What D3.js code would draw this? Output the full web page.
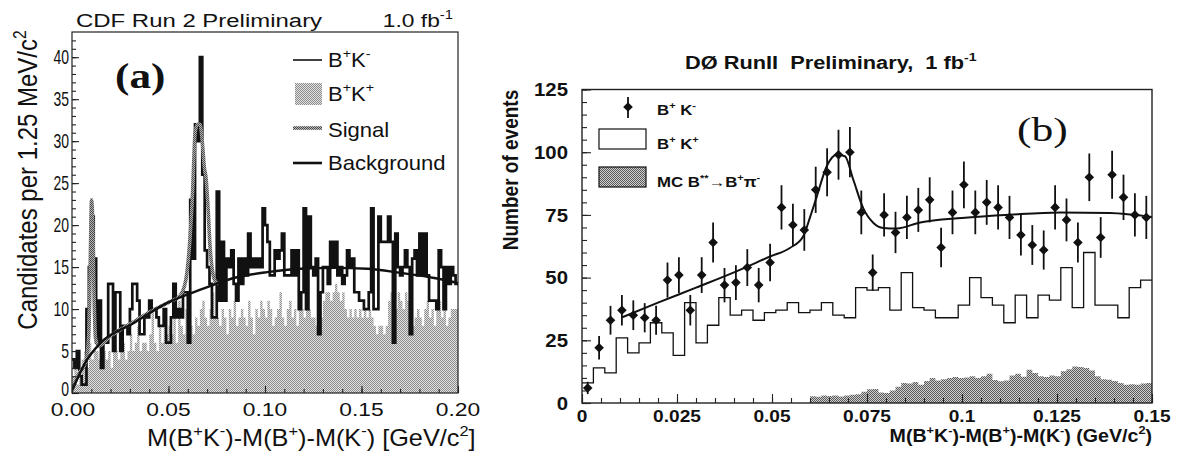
<!DOCTYPE html>
<html>
<head>
<meta charset="utf-8">
<script src="https://cdn.jsdelivr.net/npm/d3@7"></script>
<style>
  body { margin: 0; background: #fff; }
  svg text { font-family: "Liberation Sans", Arial, Helvetica, sans-serif; fill: #111; }
</style>
</head>
<body>
<svg id="chart" width="1184" height="452"></svg>
<script>
// ---------- panel (a): CDF, 1.25 MeV bins from 0 to 0.2 GeV ----------
const binA = 0.00125;
// B+K- candidates (opposite sign), 160 bins
const kmA = [
  4, 3, 5, 2, 1, 1, 10, 15, 21, 16,
  6, 11, 3, 6, 6, 13, 13, 5, 12, 12,
  5, 8, 8, 7, 10, 13, 13, 11, 7, 7,
  9, 9, 11, 10, 10, 9, 8, 8, 10, 6,
  6, 9, 13, 9, 10, 9, 12, 12, 6, 23,
  16, 32, 30, 40, 26, 17, 15, 13, 9, 9,
  24, 11, 18, 11, 16, 15, 17, 13, 11, 16,
  13, 16, 14, 19, 15, 16, 15, 16, 15, 22,
  20, 18, 14, 14, 17, 16, 17, 19, 14, 14,
  14, 17, 14, 17, 10, 12, 22, 10, 21, 15,
  14, 16, 7, 12, 15, 15, 13, 18, 15, 18,
  14, 15, 13, 14, 17, 15, 16, 12, 12, 11,
  11, 10, 10, 12, 22, 10, 10, 21, 18, 18,
  18, 21, 18, 6, 19, 15, 14, 15, 17, 15,
  7, 16, 17, 14, 19, 14, 19, 14, 11, 11,
  11, 10, 17, 15, 10, 15, 13, 15, 14, 13
];
// B+K+ candidates (same sign), 160 bins
const kpA = [
  2, 3, 1, 2, 4, 5, 3, 6, 4, 5,
  5, 4, 6, 5, 4, 5, 3, 6, 5, 4,
  5, 6, 4, 5, 7, 5, 6, 8, 5, 6,
  6, 5, 7, 10, 6, 5, 8, 6, 10, 7,
  8, 7, 9, 6, 11, 8, 7, 10, 9, 8,
  7, 9, 8, 10, 11, 9, 8, 10, 12, 9,
  9, 8, 10, 9, 7, 10, 9, 11, 8, 9,
  10, 9, 8, 11, 9, 7, 10, 9, 11, 10,
  9, 11, 10, 8, 9, 10, 12, 9, 8, 10,
  11, 9, 10, 8, 11, 10, 9, 12, 10, 9,
  9, 8, 10, 9, 11, 12, 12, 11, 12, 13,
  12, 11, 12, 10, 9, 10, 9, 10, 9, 10,
  9, 10, 9, 10, 9, 8, 7, 8, 8, 7,
  8, 11, 12, 11, 10, 12, 11, 10, 12, 11,
  9, 8, 9, 10, 9, 8, 10, 11, 9, 10,
  8, 10, 11, 9, 10, 8, 9, 10, 10, 10
];
// fitted curves
const bgX = [0, 0.0076, 0.0145, 0.0318, 0.0491, 0.0665, 0.0838, 0.1011, 0.1184, 0.1358, 0.1531, 0.1704, 0.1877, 0.2];
const bgY = [0.3, 3.9, 5.9, 8.3, 10.7, 12.3, 13.7, 14.4, 14.8, 14.9, 14.8, 14.3, 13.7, 13.1];
const sigX = [0, 0.004, 0.007, 0.0087, 0.0095, 0.0101, 0.0107, 0.0114, 0.0122, 0.0138, 0.02, 0.03, 0.04, 0.05, 0.056, 0.059, 0.061, 0.0625, 0.0638, 0.065, 0.0663, 0.0675, 0.0685, 0.0695, 0.0705, 0.0715, 0.0725, 0.074, 0.076];
const sigY = [0.3, 2.5, 3.6, 7, 16, 23, 21, 12, 6.5, 5.6, 6.8, 8.2, 9.6, 10.8, 11.6, 13.5, 18, 24, 31, 32, 32, 30, 27, 25.5, 22, 17.5, 15, 13.4, 13];
const yTicksA = [0, 5, 10, 15, 20, 25, 30, 35, 40];
const xTicksA = [0, 0.05, 0.10, 0.15, 0.20];
const xLabelsA = ["0.00", "0.05", "0.10", "0.15", "0.20"];

// ---------- panel (b): D0, 3 MeV bins from 0 to 0.15 GeV ----------
const binB = 0.003;
const dataB = [
  6, 22, 33, 37, 35, 34, 33, 49, 51, 37,
  51, 64, 47, 48, 54, 47, 56, 78, 71, 69,
  85, 92, 99, 100, 76, 52, 75, 68, 74, 77,
  81, 62, 76, 87, 76, 80, 78, 74, 67, 63,
  61, 78, 73, 64, 90, 66, 91, 82, 75, 74
];
const sameSignB = [
  8, 14, 12, 26, 20, 24, 32, 28, 19, 40,
  24, 31, 42, 35, 37, 33, 36, 37, 40, 36,
  37, 40, 35, 34, 46, 45, 46, 37, 52, 38,
  37, 34, 34, 39, 50, 42, 39, 32, 43, 34,
  43, 41, 54, 38, 60, 39, 39, 34, 46, 49
];
// MC B** -> B+ pi- , 1.5 MeV bins starting at 0.06
const mcStart = 0.06, mcBin = 0.0015;
const mcB = [
  2.7, 2.5, 3, 2.8, 3, 2.6, 3, 3.3, 3.5, 4.5,
  5.5, 5.6, 4.2, 4, 5, 6.5, 8, 7.8, 8.4, 7.3,
  8.8, 10, 9, 9.5, 10, 10.4, 10, 10.2, 10.7, 10,
  10.7, 11.7, 9.2, 8.7, 9, 11, 11.7, 10.5, 13.3, 12,
  10.7, 10.4, 11, 10.7, 12.7, 13.5, 14.6, 14.4, 14, 13,
  10.7, 9.5, 9.3, 8.8, 8, 7.3, 7.5, 7.3, 7.8, 8
];
const fitBX = [0.0106, 0.02, 0.03, 0.04, 0.0495, 0.0547, 0.0582, 0.06, 0.0618, 0.0644, 0.067, 0.0692, 0.0714, 0.074, 0.0767, 0.0793, 0.0828, 0.089, 0.1, 0.1126, 0.1258, 0.1389, 0.15];
const fitBY = [34.2, 40, 46, 52.1, 58.4, 61.8, 66.4, 74, 82.4, 94.4, 99, 98.4, 89, 77.7, 71.8, 69.8, 69.6, 72, 73.8, 75.1, 76, 75.8, 74.2];
const yTicksB = [0, 25, 50, 75, 100, 125];
const xTicksB = [0, 0.025, 0.05, 0.075, 0.1, 0.125, 0.15];
const xLabelsB = ["0", "0.025", "0.05", "0.075", "0.1", "0.125", "0.15"];

const svg = d3.select("#chart");
const defs = svg.append("defs");

// stippled grey fill like the scanned hatch (checkerboard of two greys)
function hatch(id, base, dark) {
  const p = defs.append("pattern").attr("id", id)
    .attr("patternUnits", "userSpaceOnUse").attr("width", 2).attr("height", 2);
  p.append("rect").attr("width", 2).attr("height", 2).attr("fill", base);
  [[0, 0], [1, 1]].forEach(([i, j]) =>
    p.append("rect").attr("x", i).attr("y", j).attr("width", 1).attr("height", 1).attr("fill", dark));
}
hatch("hatchA", "#e2e2e2", "#8c8c8c");
hatch("hatchB", "#cfcfcf", "#5a5a5a");
hatch("hatchS", "#b4b4b4", "#4a4a4a");

// text with a horizontal stretch (the scan is wider than tall) and superscripts
function label(x, y, parts, o) {
  let tr = `translate(${x},${y}) scale(${o.sx || 1},1)`;
  if (o.rot) tr += ` rotate(${o.rot})`;
  const t = svg.append("g").attr("transform", tr).append("text")
    .attr("font-size", o.size)
    .attr("text-anchor", o.anchor || "start")
    .attr("font-weight", o.weight || "normal")
    .attr("xml:space", "preserve")
    .style("white-space", "pre");
  if (o.family) t.style("font-family", o.family);
  let up = false;
  parts.forEach(p => {
    if (typeof p === "string") {
      const s = t.append("tspan").text(p);
      if (up) { s.attr("dy", o.size * 0.42); up = false; }
    } else {
      t.append("tspan").attr("font-size", o.size * 0.65).attr("dy", -o.size * 0.42).text(p.sup);
      up = true;
    }
  });
  return t;
}

const steps = (vals, start, w) => vals.flatMap((v, i) => [[start + i * w, v], [start + (i + 1) * w, v]]);

// ================= panel (a) =================
const xA = d3.scaleLinear().domain([0, 0.2]).range([72, 458]);
const yA = d3.scaleLinear().domain([0, 43]).range([393, 32]);

defs.append("clipPath").attr("id", "clipA").append("rect")
  .attr("x", xA(0)).attr("y", yA(43)).attr("width", xA(0.2) - xA(0)).attr("height", yA(0) - yA(43));

const gA = svg.append("g").attr("clip-path", "url(#clipA)");
gA.append("path")
  .attr("d", d3.area().x(d => xA(d[0])).y0(yA(0)).y1(d => yA(d[1]))(steps(kpA, 0, binA)))
  .attr("fill", "url(#hatchA)");
gA.append("path")
  .attr("d", d3.line().x(d => xA(d[0])).y(d => yA(d[1]))(steps(kmA, 0, binA)))
  .attr("fill", "none").attr("stroke", "#111").attr("stroke-width", 2.7);
gA.append("path")
  .attr("d", d3.line().curve(d3.curveMonotoneX).x(d => xA(d[0])).y(d => yA(d[1]))(sigX.map((v, i) => [v, sigY[i]])))
  .attr("fill", "none").attr("stroke", "url(#hatchS)").attr("stroke-width", 3.6);
gA.append("path")
  .attr("d", d3.line().curve(d3.curveMonotoneX).x(d => xA(d[0])).y(d => yA(d[1]))(bgX.map((v, i) => [v, bgY[i]])))
  .attr("fill", "none").attr("stroke", "#111").attr("stroke-width", 2.4);

// frame and inward ticks
svg.append("rect").attr("x", xA(0)).attr("y", yA(43)).attr("width", xA(0.2) - xA(0)).attr("height", yA(0) - yA(43))
  .attr("fill", "none").attr("stroke", "#222").attr("stroke-width", 1.2);
function ticks(axis, tr, vals, size) {
  const g = svg.append("g").attr("transform", tr)
    .call(axis.tickValues(vals).tickSize(-size).tickFormat(""));
  g.select(".domain").remove();
  g.selectAll("line").attr("stroke", "#222").attr("stroke-width", 1.1);
}
ticks(d3.axisLeft(yA), `translate(${xA(0)},0)`, d3.range(0, 43, 1), 4);
ticks(d3.axisLeft(yA), `translate(${xA(0)},0)`, yTicksA, 7);
ticks(d3.axisBottom(xA), `translate(0,${yA(0)})`, d3.range(0, 0.2001, 0.01), 4);
ticks(d3.axisBottom(xA), `translate(0,${yA(0)})`, xTicksA, 7);

// the "0" sits a little high so it clears "0.00" below it
yTicksA.forEach(v => label(69, yA(v) + (v === 0 ? 3 : 7), [String(v)], { size: 20, sx: 0.7, anchor: "end" }));
xTicksA.forEach((v, i) => label(xA(v) + (i === 0 ? 1 : 0), 416, [xLabelsA[i]], { size: 19, sx: 1.2, anchor: "middle" }));

label(76, 27, ["CDF Run 2 Preliminary"], { size: 19, sx: 1.26 });
label(453, 27, ["1.0 fb", { sup: "-1" }], { size: 19, sx: 1.2, anchor: "end" });
label(115, 88, ["(a)"], { size: 36, sx: 1.2, weight: "bold", family: "'Liberation Serif', 'Times New Roman', serif" });
label(147, 446, ["M(B", { sup: "+" }, "K", { sup: "-" }, ")-M(B", { sup: "+" }, ")-M(K", { sup: "-" }, ") [GeV/c", { sup: "2" }, "]"],
  { size: 23, sx: 1.1 });
label(37, 180, ["Candidates per 1.25 MeV/c", { sup: "2" }], { size: 24, sx: 1.12, anchor: "middle", rot: -90 });

// legend (a)
svg.append("line").attr("x1", 293).attr("x2", 322).attr("y1", 60).attr("y2", 60).attr("stroke", "#111").attr("stroke-width", 1.6);
svg.append("rect").attr("x", 295).attr("y", 83).attr("width", 27).attr("height", 22).attr("fill", "url(#hatchA)");
svg.append("line").attr("x1", 293).attr("x2", 322).attr("y1", 128).attr("y2", 128).attr("stroke", "url(#hatchS)").attr("stroke-width", 3.6);
svg.append("line").attr("x1", 293).attr("x2", 322).attr("y1", 163).attr("y2", 163).attr("stroke", "#111").attr("stroke-width", 2.6);
label(328, 67, ["B", { sup: "+" }, "K", { sup: "-" }], { size: 21, sx: 1.05 });
label(328, 101, ["B", { sup: "+" }, "K", { sup: "+" }], { size: 21, sx: 1.05 });
label(328, 137, ["Signal"], { size: 21, sx: 1.05 });
label(328, 170, ["Background"], { size: 21, sx: 1.05 });

// ================= panel (b) =================
const xB = d3.scaleLinear().domain([0, 0.15]).range([582, 1152]);
const yB = d3.scaleLinear().domain([0, 125]).range([403, 89.5]);

const gB = svg.append("g");
gB.append("path")
  .attr("d", d3.area().x(d => xB(d[0])).y0(yB(0)).y1(d => yB(d[1]))(steps(mcB, mcStart, mcBin)))
  .attr("fill", "url(#hatchB)");
gB.append("path")
  .attr("d", d3.line().x(d => xB(d[0])).y(d => yB(d[1]))(steps(sameSignB, 0, binB)))
  .attr("fill", "none").attr("stroke", "#111").attr("stroke-width", 1.3);
gB.append("path")
  .attr("d", d3.line().curve(d3.curveMonotoneX).x(d => xB(d[0])).y(d => yB(d[1]))(fitBX.map((v, i) => [v, fitBY[i]])))
  .attr("fill", "none").attr("stroke", "#111").attr("stroke-width", 2);

const diamond = (x, y, r) => `M${x},${y - r}L${x + r},${y}L${x},${y + r}L${x - r},${y}Z`;
const pts = gB.selectAll(".pt").data(dataB).enter().append("g").attr("class", "pt");
pts.append("line")
  .attr("x1", (d, i) => xB((i + 0.5) * binB)).attr("x2", (d, i) => xB((i + 0.5) * binB))
  .attr("y1", d => yB(d - Math.sqrt(d))).attr("y2", d => yB(Math.min(d + Math.sqrt(d), 125)))
  .attr("stroke", "#111").attr("stroke-width", 1.8);
pts.append("path")
  .attr("d", (d, i) => diamond(xB((i + 0.5) * binB), yB(d), 4.8))
  .attr("fill", "#111");

svg.append("rect").attr("x", xB(0)).attr("y", yB(125)).attr("width", xB(0.15) - xB(0)).attr("height", yB(0) - yB(125))
  .attr("fill", "none").attr("stroke", "#222").attr("stroke-width", 1.4);
ticks(d3.axisLeft(yB), `translate(${xB(0)},0)`, d3.range(0, 126, 5), 5);
ticks(d3.axisLeft(yB), `translate(${xB(0)},0)`, yTicksB, 9);
ticks(d3.axisBottom(xB), `translate(0,${yB(0)})`, d3.range(0, 0.1501, 0.005), 5);
ticks(d3.axisBottom(xB), `translate(0,${yB(0)})`, xTicksB, 9);

yTicksB.forEach(v => label(568, yB(v) + 6.6, [String(v)], { size: 18.5, sx: 1.1, anchor: "end", weight: "bold" }));
xTicksB.forEach((v, i) => label(xB(v), 422, [xLabelsB[i]], { size: 16.5, sx: 1.16, anchor: "middle", weight: "bold" }));

label(685, 69, ["D\u00D8 RunII  Preliminary,  1 fb", { sup: "-1" }], { size: 18, sx: 1.21, weight: "bold" });
label(1017, 141, ["(b)"], { size: 34, sx: 1.28, family: "'Liberation Serif', 'Times New Roman', serif" });
label(1152, 442, ["M(B", { sup: "+" }, "K", { sup: "-" }, ")-M(B", { sup: "+" }, ")-M(K", { sup: "-" }, ") (GeV/c", { sup: "2" }, ")"],
  { size: 18, sx: 1.09, anchor: "end", weight: "bold" });
label(518, 170, ["Number of events"], { size: 19, sx: 1.15, anchor: "middle", weight: "bold", rot: -90 });

// legend (b)
svg.append("line").attr("x1", 628).attr("x2", 628).attr("y1", 97).attr("y2", 118).attr("stroke", "#111").attr("stroke-width", 1.8);
svg.append("path").attr("d", diamond(628, 107, 4.8)).attr("fill", "#111");
svg.append("rect").attr("x", 599).attr("y", 129).attr("width", 47).attr("height", 20)
  .attr("fill", "#fff").attr("stroke", "#111").attr("stroke-width", 1.2);
svg.append("rect").attr("x", 599).attr("y", 167).attr("width", 47).attr("height", 20)
  .attr("fill", "url(#hatchB)").attr("stroke", "#111").attr("stroke-width", 1.2);
label(657, 115, ["B", { sup: "+" }, " K", { sup: "-" }], { size: 14, sx: 1.2, weight: "bold" });
label(657, 149, ["B", { sup: "+" }, " K", { sup: "+" }], { size: 14, sx: 1.2, weight: "bold" });
label(657, 187, ["MC B", { sup: "**" }, "\u2192B", { sup: "+" }, "\u03C0", { sup: "-" }], { size: 14, sx: 1.2, weight: "bold" });
</script>
</body>
</html>
